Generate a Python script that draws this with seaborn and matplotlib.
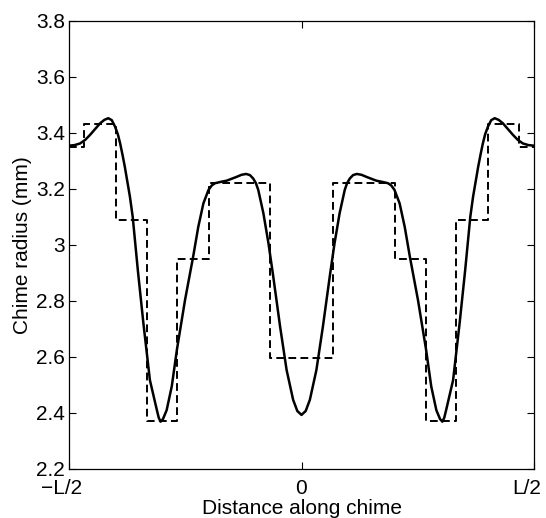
import matplotlib
matplotlib.use("Agg")
import matplotlib.pyplot as plt
import matplotlib.transforms as mtransforms
import seaborn as sns
import pandas as pd

# Smooth chime radius profile (position in units of L, radius in mm)
curve_x = [-0.500, -0.488, -0.476, -0.465, -0.455, -0.444, -0.433, -0.424, -0.4155, -0.408,
           -0.401, -0.395, -0.390, -0.385, -0.380, -0.369, -0.363, -0.352, -0.340, -0.326,
           -0.318, -0.311, -0.307, -0.303, -0.298, -0.290, -0.279, -0.268, -0.2505, -0.233,
           -0.222, -0.211, -0.200, -0.193, -0.186, -0.173, -0.161, -0.150, -0.139, -0.129,
           -0.119, -0.111, -0.104, -0.098, -0.093, -0.082, -0.071, -0.061, -0.046, -0.032,
           -0.018, -0.009, 0.000,
           0.009, 0.018, 0.032, 0.046, 0.061, 0.071, 0.082, 0.093, 0.098, 0.104,
           0.111, 0.119, 0.129, 0.139, 0.150, 0.161, 0.173, 0.186, 0.193, 0.200,
           0.211, 0.222, 0.233, 0.2505, 0.268, 0.279, 0.290, 0.298, 0.303, 0.307,
           0.311, 0.318, 0.326, 0.340, 0.352, 0.363, 0.369, 0.380, 0.385, 0.390,
           0.395, 0.401, 0.408, 0.4155, 0.424, 0.433, 0.444, 0.455, 0.465, 0.476,
           0.488, 0.500]
curve_y = [3.354, 3.356, 3.362, 3.375, 3.392, 3.413, 3.434, 3.446, 3.452, 3.445,
           3.422, 3.395, 3.362, 3.322, 3.279, 3.172, 3.100, 2.910, 2.720, 2.517,
           2.460, 2.410, 2.383, 2.369, 2.378, 2.410, 2.495, 2.625, 2.803, 2.958,
           3.064, 3.148, 3.196, 3.212, 3.220, 3.225, 3.229, 3.236, 3.243, 3.250,
           3.253, 3.249, 3.237, 3.220, 3.196, 3.113, 3.005, 2.890, 2.708, 2.553,
           2.447, 2.407, 2.393,
           2.407, 2.447, 2.553, 2.708, 2.890, 3.005, 3.113, 3.196, 3.220, 3.237,
           3.249, 3.253, 3.250, 3.243, 3.236, 3.229, 3.225, 3.220, 3.212, 3.196,
           3.148, 3.064, 2.958, 2.803, 2.625, 2.495, 2.410, 2.378, 2.369, 2.383,
           2.410, 2.460, 2.517, 2.720, 2.910, 3.100, 3.172, 3.279, 3.322, 3.362,
           3.395, 3.422, 3.445, 3.452, 3.446, 3.434, 3.413, 3.392, 3.375, 3.362,
           3.356, 3.354]

# Piecewise-constant (stepped) approximation
step_edges = [-0.5, -0.467, -0.4, -0.333, -0.267, -0.2, -0.067,
              0.067, 0.2, 0.267, 0.333, 0.4, 0.467, 0.5]
step_values = [3.35, 3.43, 3.09, 2.37, 2.95, 3.22, 2.595,
               3.22, 2.95, 2.37, 3.09, 3.43, 3.35]

x_tick_pos = [-0.5, 0.0, 0.5]
x_tick_labels = ["\u2212L/2", "0", "L/2"]
y_ticks = [2.2, 2.4, 2.6, 2.8, 3.0, 3.2, 3.4, 3.6, 3.8]
y_tick_labels = ["2.2", "2.4", "2.6", "2.8", "3", "3.2", "3.4", "3.6", "3.8"]

sns.set_style("ticks")
plt.rcParams["font.family"] = ["Liberation Sans", "DejaVu Sans"]

fig = plt.figure(figsize=(5.46, 5.18), dpi=100)
ax = fig.add_axes([69 / 546, 1 - 469 / 518, (534 - 69) / 546, (469 - 20.7) / 518])

curve_df = pd.DataFrame({"x": curve_x, "r": curve_y})
step_df = pd.DataFrame({"x": step_edges, "r": step_values + [step_values[-1]]})

sns.lineplot(data=step_df, x="x", y="r", ax=ax, color="black", linewidth=1.4,
             linestyle=(0, (4.0, 2.2)), drawstyle="steps-post", estimator=None, sort=False)
sns.lineplot(data=curve_df, x="x", y="r", ax=ax, color="black", linewidth=1.8,
             estimator=None, sort=False)

fs = 15
ax.set_xlim(-0.5, 0.5)
ax.set_ylim(2.2, 3.8)
ax.set_xticks(x_tick_pos)
ax.set_xticklabels(x_tick_labels)
ax.set_yticks(y_ticks)
ax.set_yticklabels(y_tick_labels)
ax.tick_params(direction="in", length=5, width=0.8, labelsize=fs, color="black",
               labelcolor="black", top=True, right=True, pad=3)
ax.tick_params(axis="x", pad=7)
for s in ax.spines.values():
    s.set_visible(True)
    s.set_linewidth(0.9)
    s.set_color("black")

# end tick labels sit slightly left of their ticks in the reference
xlabs = ax.get_xticklabels()
shift = mtransforms.ScaledTranslation(-7 / 100, 0, fig.dpi_scale_trans)
for lab in (xlabs[0], xlabs[-1]):
    lab.set_transform(lab.get_transform() + shift)

ax.set_xlabel("Distance along chime", fontsize=fs, labelpad=1, color="black")
ax.set_ylabel("Chime radius (mm)", fontsize=fs, labelpad=3, color="black")

fig.savefig("out.png", dpi=100, facecolor="white")
